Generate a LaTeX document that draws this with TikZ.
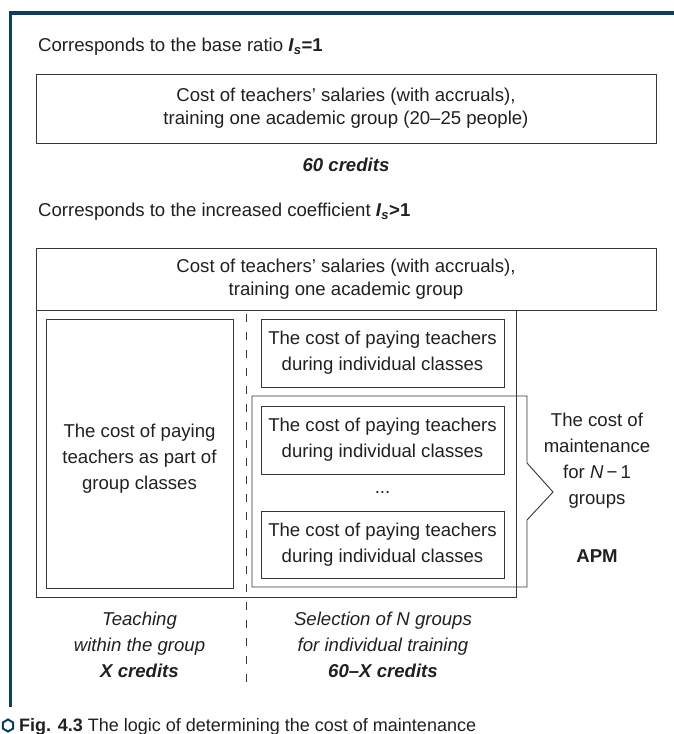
\documentclass[tikz,border=0pt]{standalone}
\usepackage{fontspec}
\setmainfont{Liberation Sans}
\definecolor{frameblue}{RGB}{10,62,98}
\definecolor{ink}{RGB}{35,31,32}
\definecolor{boxline}{RGB}{55,55,55}
\newcommand{\msz}{\fontsize{18.6}{23}\selectfont}
\newcommand{\lsz}{\fontsize{18.6}{26}\selectfont}
\begin{document}
\begin{tikzpicture}[x=1pt,y=-1pt,
  box/.style={draw=boxline, line width=0.9pt, inner sep=0pt, align=center, text=ink, font=\lsz},
  topbox/.style={box, font=\msz},
  lbl/.style={inner sep=0pt, align=center, text=ink, font=\lsz},
  frameline/.style={draw=frameblue, line width=3.5pt}]
\useasboundingbox (0,0) rectangle (674,734);
% frame
\coordinate (fa) at (674,13);
\coordinate (fc) at (10.5,13);
\coordinate (fb) at (10.5,707);
\draw[frameline] (fa) -- (fc) -- (fb);
% part 1
\node[lbl, anchor=west] (t1) at (38,47) {Corresponds to the base ratio \textbf{\textit{I}\textsubscript{\textit{s}}=1}};
\node[topbox, minimum width=620pt, minimum height=69pt] (b1) at (346,108.5) {Cost of teachers' salaries (with accruals),\\training one academic group (20--25 people)};
\node[lbl] (c1) at (346,165) {\textbf{\textit{60 credits}}};
% part 2
\node[lbl, anchor=west] (t2) at (38,212) {Corresponds to the increased coefficient \textbf{\textit{I}\textsubscript{\textit{s}}>1}};
\node[topbox, minimum width=620pt, minimum height=62pt] (b2) at (346,279) {Cost of teachers' salaries (with accruals),\\training one academic group};
\coordinate (o1) at (36,310);
\coordinate (o2) at (36,597);
\coordinate (o3) at (516,597);
\coordinate (o4) at (516,310);
\draw[draw=boxline, line width=0.9pt] (o1) -- (o2) -- (o3) -- (o4);
\node[box, minimum width=187pt, minimum height=269pt] (lb) at (139.5,453.5) {};
\node[lbl] (lbt) at (139.5,458.5) {The cost of paying\\teachers as part of\\group classes};
\coordinate (d1) at (246.5,310);
\coordinate (d2) at (246.5,690);
\draw[draw=boxline, line width=0.8pt, dash pattern=on 8pt off 10pt, dash phase=-4pt] (d1) -- (d2);
\node[box, minimum width=243pt, minimum height=68pt] (r1) at (382.5,353) {The cost of paying teachers\\during individual classes};
% group of N-1
\coordinate (g1) at (252,396);
\coordinate (g2) at (527,396);
\coordinate (g3) at (527,463);
\coordinate (g4) at (553,492);
\coordinate (g5) at (527,520);
\coordinate (g6) at (527,587);
\coordinate (g7) at (252,587);
\draw[draw=boxline, line width=0.9pt] (g1) -- (g2) -- (g3) -- (g4) -- (g5) -- (g6) -- (g7) -- cycle;
\node[box, minimum width=243pt, minimum height=68pt] (r2) at (382.5,440) {The cost of paying teachers\\during individual classes};
\node[lbl] (dots) at (382.5,492) {...};
\node[box, minimum width=243pt, minimum height=67pt] (r3) at (382.5,544.5) {The cost of paying teachers\\during individual classes};
\node[lbl] (mt) at (597,461) {The cost of\\maintenance\\for \textit{N}\,\textminus\,1\\groups};
\node[lbl] (apm) at (597,556) {\textbf{APM}};
% bottom labels
\node[lbl] (bl) at (139.5,645) {\textit{Teaching}\\\textit{within the group}\\\textbf{\textit{X credits}}};
\node[lbl] (br) at (383,645) {\textit{Selection of N groups}\\\textit{for individual training}\\\textbf{\textit{60--X credits}}};
% caption
\coordinate (hx) at (8,725.5);
\draw[draw=frameblue, line width=2pt] (hx) +(90:6) -- +(150:6) -- +(210:6) -- +(270:6) -- +(330:6) -- +(30:6) -- cycle;
\node[lbl, anchor=base west, font=\fontsize{18}{22}\selectfont] (cap) at (19,731) {\textbf{Fig. 4.3} The logic of determining the cost of maintenance};
\end{tikzpicture}
\end{document}
